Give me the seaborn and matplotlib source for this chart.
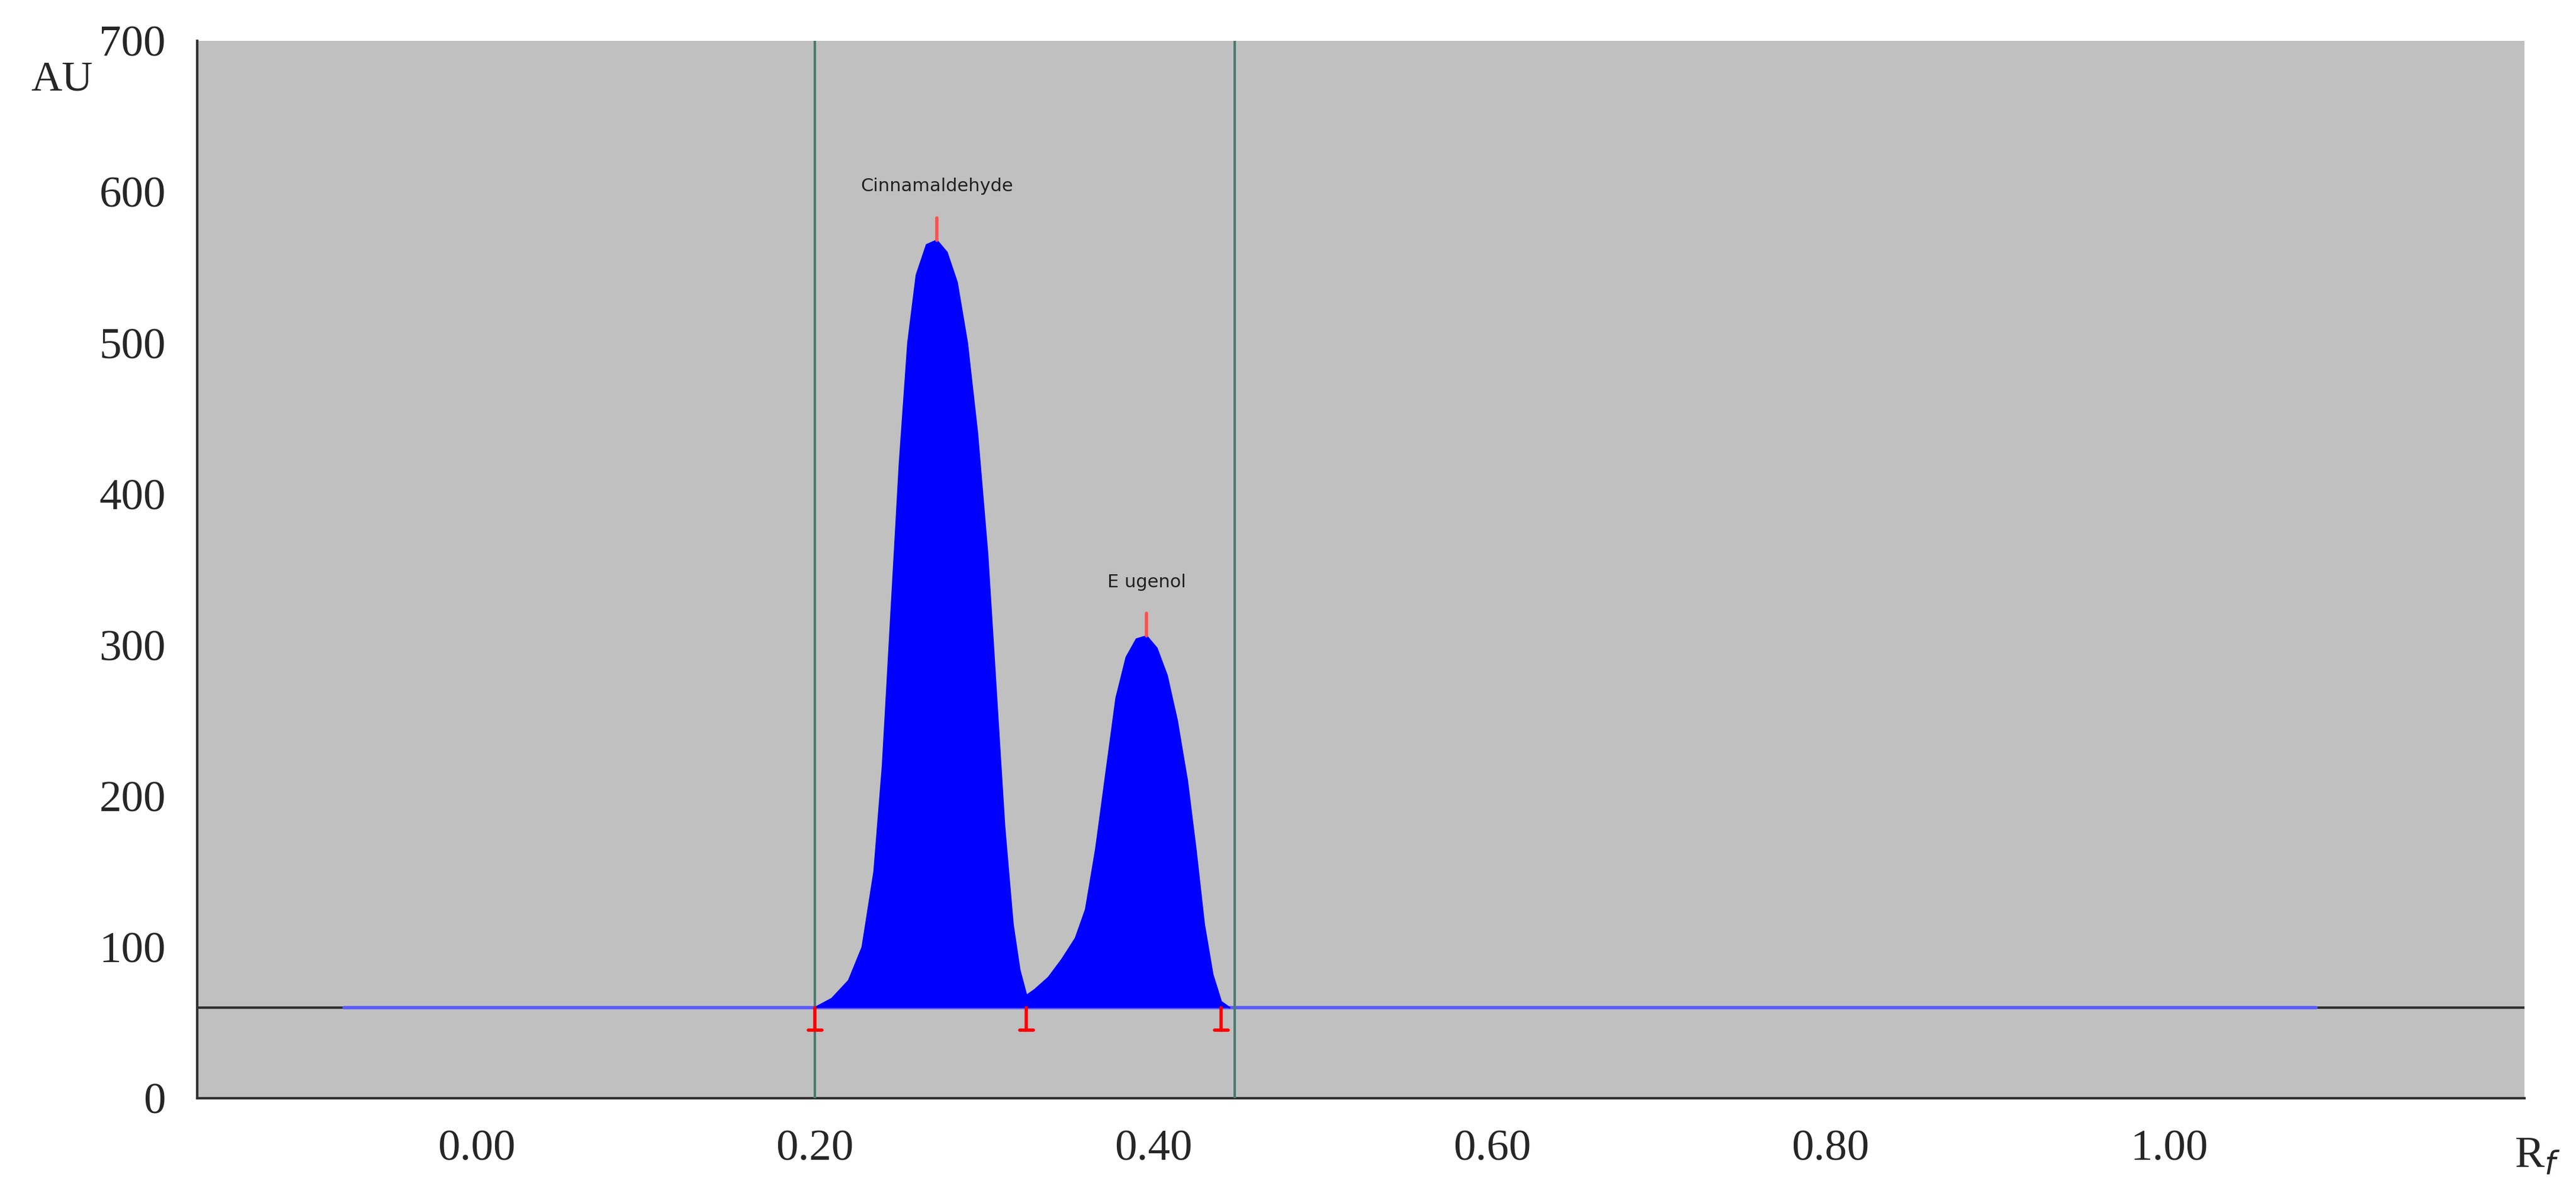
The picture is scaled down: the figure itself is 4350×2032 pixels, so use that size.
import matplotlib
matplotlib.use("Agg")
import matplotlib.pyplot as plt
import seaborn as sns
import pandas as pd

# densitogram trace (Rf, AU)
rf = [0.200, 0.210, 0.220, 0.228, 0.235, 0.240, 0.245, 0.250, 0.255, 0.260,
      0.266, 0.272, 0.278, 0.284, 0.290, 0.296, 0.302, 0.307, 0.312, 0.317,
      0.321, 0.325, 0.330, 0.338, 0.346, 0.354, 0.360, 0.366, 0.372, 0.378,
      0.384, 0.390, 0.396, 0.402, 0.408, 0.414, 0.420, 0.425, 0.430, 0.435,
      0.440, 0.445]
au = [60, 66, 78, 100, 150, 220, 320, 420, 500, 545,
      565, 568, 560, 540, 500, 440, 360, 270, 180, 115,
      85, 68, 72, 80, 92, 106, 125, 165, 215, 265,
      292, 304, 306, 298, 280, 250, 210, 165, 115, 82,
      64, 60]

baseline_au = 60
baseline_start, baseline_end = -0.078, 1.087
window_lines = [0.200, 0.448]
boundaries = [0.200, 0.325, 0.440]
peak_names = ["Cinnamaldehyde", "E ugenol"]
peak_rf = [0.272, 0.396]
peak_au = [568, 306]

x_ticks = [0.0, 0.2, 0.4, 0.6, 0.8, 1.0]
y_ticks = [0, 100, 200, 300, 400, 500, 600, 700]

trace = pd.DataFrame({"Rf": rf, "AU": au})
base = pd.DataFrame({"Rf": [baseline_start, baseline_end], "AU": [baseline_au, baseline_au]})

sns.set_style("white")
plt.rcParams["font.family"] = ["Liberation Serif", "DejaVu Serif"]

fig = plt.figure(figsize=(43.5, 20.32), dpi=100)
ax = fig.add_axes([0.0765, 0.087, 0.9035, 0.879])
ax.set_facecolor("#c0c0c0")

ax.axhline(baseline_au, color="#303030", lw=3, zorder=1)
sns.lineplot(data=base, x="Rf", y="AU", ax=ax, color="#5a5aff", lw=4, zorder=2)
ax.fill_between(trace["Rf"], baseline_au, trace["AU"], color="#0000ff", lw=0, zorder=3)
sns.lineplot(data=trace, x="Rf", y="AU", ax=ax, color="#0000ff", lw=2, zorder=3)

for xv in window_lines:
    ax.axvline(xv, color="#4a7a70", lw=3, zorder=4)

for xv in boundaries:
    ax.plot([xv, xv], [baseline_au, baseline_au - 15], color="red", lw=4, zorder=5)
    ax.plot([xv - 0.004, xv + 0.004], [baseline_au - 15, baseline_au - 15], color="red", lw=4, zorder=5)

for name, xv, yv in zip(peak_names, peak_rf, peak_au):
    ax.plot([xv, xv], [yv, yv + 15], color="#ff5050", lw=4, zorder=5)
    ax.text(xv, yv + 30, name, ha="center", va="bottom", fontsize=22,
            family="DejaVu Sans", color="#202020")

ax.set_xlim(-0.165, 1.21)
ax.set_ylim(0, 700)
ax.set_xticks(x_ticks)
ax.set_xticklabels([f"{t:.2f}" for t in x_ticks])
ax.set_yticks(y_ticks)
ax.tick_params(labelsize=54, length=8, width=2, pad=30)
ax.set_xlabel("")
ax.set_ylabel("")
for s in ["top", "right"]:
    ax.spines[s].set_visible(False)
for s in ["left", "bottom"]:
    ax.spines[s].set_linewidth(3)
    ax.spines[s].set_color("#303030")

fig.text(0.012, 0.925, "AU", fontsize=52)
fig.text(0.976, 0.03, r"R$_{\mathit{f}}$", fontsize=54)

fig.savefig("out.png", dpi=100, facecolor="white")
